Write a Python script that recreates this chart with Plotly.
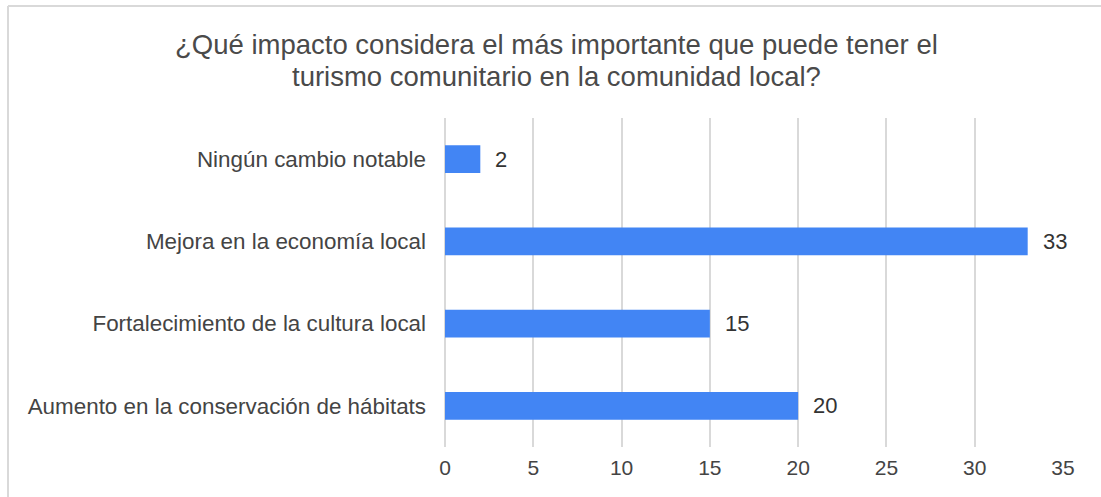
import plotly.graph_objects as go

categories = [
    "Ningún cambio notable",
    "Mejora en la economía local",
    "Fortalecimiento de la cultura local",
    "Aumento en la conservación de hábitats",
]
values = [2, 33, 15, 20]
tick_vals = [0, 5, 10, 15, 20, 25, 30, 35]
title_lines = [
    "¿Qué impacto considera el más importante que puede tener el",
    "turismo comunitario en la comunidad local?",
]

FONT = "Arial, Liberation Sans, sans-serif"
W, H = 1101, 497
L, R, T, B = 445, 38, 118, 50
PW, PH = W - L - R, H - T - B


def px_x(p):
    return (p - L) / PW


def px_y(p):
    return (H - B - p) / PH


fig = go.Figure()
fig.add_trace(go.Bar(
    x=values, y=categories, orientation="h",
    marker=dict(color="#4285F4", line=dict(width=0)),
    width=0.34,
    hoverinfo="x+y",
))

for c, v in zip(categories, values):
    fig.add_annotation(
        x=v, y=c, text=str(v), showarrow=False, xanchor="left",
        xshift=13, font=dict(family=FONT, size=22, color="#333333"),
    )

# title lines
for txt, cy in zip(title_lines, [44, 76]):
    fig.add_annotation(
        xref="paper", yref="paper", x=px_x(556), y=px_y(cy),
        xanchor="center", yanchor="middle", showarrow=False, text=txt,
        font=dict(family=FONT, size=27.5, color="#4a4a4a"),
    )

# light border lines (top and left) of the original card
fig.add_shape(type="line", xref="paper", yref="paper",
              x0=px_x(8), x1=px_x(1110), y0=px_y(6), y1=px_y(6),
              line=dict(color="#d9d9d9", width=2))
fig.add_shape(type="line", xref="paper", yref="paper",
              x0=px_x(8), x1=px_x(8), y0=px_y(6), y1=px_y(510),
              line=dict(color="#d9d9d9", width=2))

fig.update_layout(
    width=W, height=H,
    margin=dict(l=L, r=R, t=T, b=B),
    paper_bgcolor="white", plot_bgcolor="white",
    showlegend=False,
    xaxis=dict(range=[0, 35], tickvals=tick_vals, showgrid=True,
               gridcolor="#d9d9d9", gridwidth=1.5, zeroline=True,
               zerolinecolor="#d9d9d9", zerolinewidth=1.5,
               tickfont=dict(family=FONT, size=21, color="#444444"),
               ticks="", showline=False, fixedrange=True, ticklabelstandoff=6),
    yaxis=dict(categoryorder="array", categoryarray=categories, autorange="reversed",
               tickfont=dict(family=FONT, size=22.4, color="#444444"),
               ticks="", showline=False, ticklabelstandoff=18),
)

fig.write_html("out.html", config={"displayModeBar": False},
               post_script="document.body.style.margin='0';")
